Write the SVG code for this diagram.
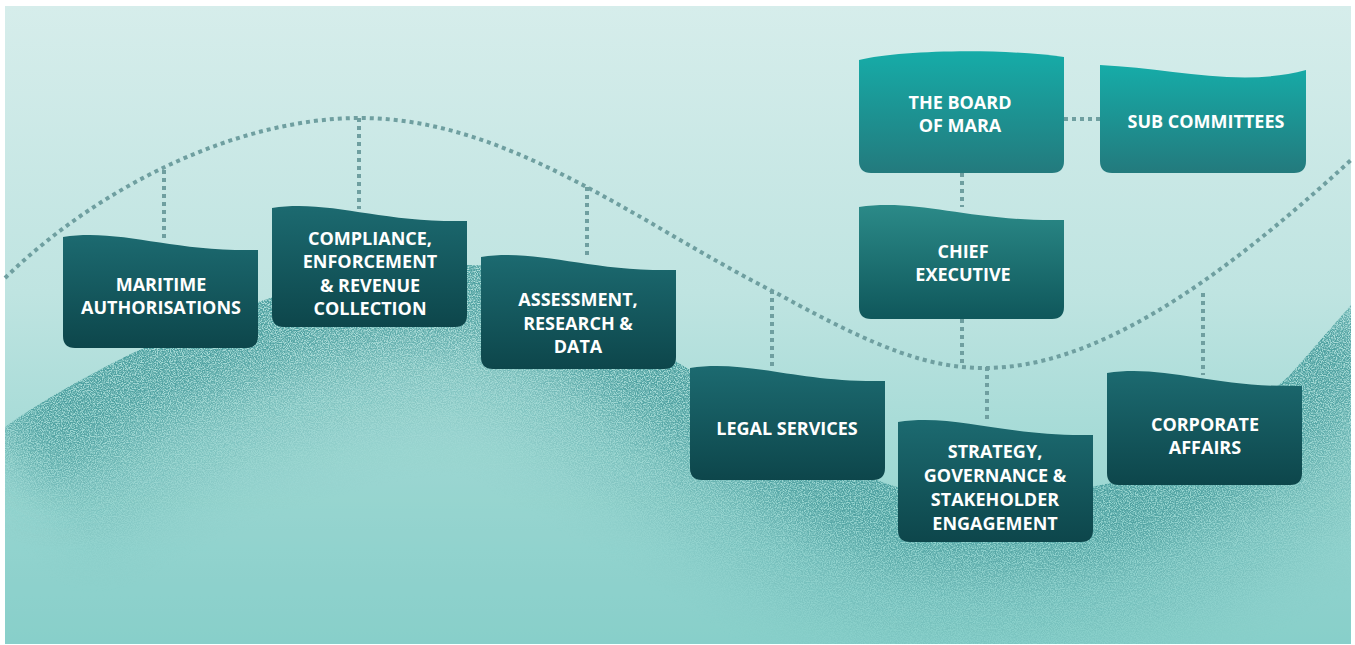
<svg xmlns="http://www.w3.org/2000/svg" width="1355" height="645" viewBox="0 0 1355 645">
<defs>
  <linearGradient id="bg" x1="0" y1="6" x2="0" y2="644" gradientUnits="userSpaceOnUse">
    <stop offset="0" stop-color="#d6edeb"/>
    <stop offset="0.45" stop-color="#bfe4e1"/>
    <stop offset="0.8" stop-color="#98d6d1"/>
    <stop offset="1" stop-color="#84cec9"/>
  </linearGradient>
  <linearGradient id="gDark" x1="0" y1="0" x2="0" y2="1">
    <stop offset="0" stop-color="#1c6a70"/>
    <stop offset="1" stop-color="#0d464b"/>
  </linearGradient>
  <linearGradient id="gBright" x1="0" y1="0" x2="0" y2="1">
    <stop offset="0" stop-color="#16aca8"/>
    <stop offset="1" stop-color="#237a7d"/>
  </linearGradient>
  <linearGradient id="gMid" x1="0" y1="0" x2="0" y2="1">
    <stop offset="0" stop-color="#2b8a88"/>
    <stop offset="1" stop-color="#0f575b"/>
  </linearGradient>
  <clipPath id="hillClip">
    <path d="M5,427 C100,360 300,262 470,265 C560,267 620,330 690,370 C780,420 850,480 910,490 C990,500 1060,495 1110,483 C1180,460 1240,420 1290,375 L1351,305 V644 H5 Z"/>
  </clipPath>
  <filter id="soft" filterUnits="userSpaceOnUse" x="-100" y="0" width="1600" height="800">
    <feGaussianBlur stdDeviation="28"/>
  </filter>
  <filter id="stipple" filterUnits="userSpaceOnUse" x="0" y="0" width="1355" height="645">
    <feTurbulence type="fractalNoise" baseFrequency="0.85" numOctaves="2" seed="7" result="n"/>
    <feColorMatrix in="n" type="matrix" values="0 0 0 0 0  0 0 0 0 0  0 0 0 0 0  3.2 0 0 0 -1.1" result="m"/>
    <feComposite in="SourceGraphic" in2="m" operator="in"/>
  </filter>
  <style>
    .box-text { font-family: "Open Sans", "Liberation Sans", sans-serif; font-weight: 700; font-size: 18px; fill: #ffffff; text-anchor: middle; }
    .dots { fill: none; stroke: #6f9fa0; stroke-width: 4; stroke-dasharray: 4 4; }
  </style>
</defs>

<rect x="0" y="0" width="1355" height="645" fill="#ffffff"/>
<rect x="5" y="6" width="1346" height="638" fill="url(#bg)"/>

<g id="hill" clip-path="url(#hillClip)">
  <path d="M5,427 C100,360 300,262 470,265 C560,267 620,330 690,370 C780,420 850,480 910,490 C990,500 1060,495 1110,483 C1180,460 1240,420 1290,375 L1351,305 V644 H5 Z" fill="#8fd0cc" opacity="0.35"/>
  <g filter="url(#stipple)">
    <path d="M5,427 C100,360 300,262 470,265 C560,267 620,330 690,370 C780,420 850,480 910,490 C990,500 1060,495 1110,483 C1180,460 1240,420 1290,375 L1351,305" fill="none" stroke="#3f9697" stroke-width="150" filter="url(#soft)"/>
  </g>
  <g filter="url(#stipple)" opacity="0.45">
    <path d="M5,427 C100,360 300,262 470,265 C560,267 620,330 690,370 C780,420 850,480 910,490 C990,500 1060,495 1110,483 C1180,460 1240,420 1290,375 L1351,305" fill="none" stroke="#5aa9a8" stroke-width="300" filter="url(#soft)"/>
  </g>
</g>

<g id="connectors">
  <path class="dots" d="M5,278 C100,185 240,118 360,118 C510,118 640,225 780,295 C880,350 930,368 985,368 C1090,368 1210,290 1351,160"/>
  <line class="dots" x1="164" y1="170" x2="164" y2="238"/>
  <line class="dots" x1="359" y1="118" x2="359" y2="209"/>
  <line class="dots" x1="587" y1="187" x2="587" y2="259"/>
  <line class="dots" x1="772" y1="290" x2="772" y2="369"/>
  <line class="dots" x1="962" y1="173" x2="962" y2="207"/>
  <line class="dots" x1="962" y1="319" x2="962" y2="366"/>
  <line class="dots" x1="987" y1="367" x2="987" y2="423"/>
  <line class="dots" x1="1203" y1="293" x2="1203" y2="375"/>
  <line class="dots" x1="1064" y1="119" x2="1100" y2="119"/>
</g>

<g id="board">
  <path d="M859,60 C900,50 1000,48 1064,57 V161 q0,12 -12,12 H871 q-12,0 -12,-12 Z" fill="url(#gBright)"/>
  <text class="box-text" x="960" y="109">THE BOARD</text>
  <text class="box-text" x="960" y="132">OF MARA</text>
</g>
<g id="sub-committees">
  <path d="M1100,65 C1170,68 1240,88 1306,70 V161 q0,12 -12,12 H1112 q-12,0 -12,-12 Z" fill="url(#gBright)"/>
  <text class="box-text" x="1206" y="128">SUB COMMITTEES</text>
</g>
<g id="chief-executive">
  <path d="M859,207 c60,-9 112,15 205,13 V307 q0,12 -12,12 H871 q-12,0 -12,-12 Z" fill="url(#gMid)"/>
  <text class="box-text" x="963" y="258">CHIEF</text>
  <text class="box-text" x="963" y="281">EXECUTIVE</text>
</g>
<g id="maritime-authorisations">
  <path d="M63,237 c57,-9 107,15 195,13 V336 q0,12 -12,12 H75 q-12,0 -12,-12 Z" fill="url(#gDark)"/>
  <text class="box-text" x="161" y="291">MARITIME</text>
  <text class="box-text" x="161" y="314">AUTHORISATIONS</text>
</g>
<g id="compliance">
  <path d="M272,208 c57,-9 107,15 195,13 V315 q0,12 -12,12 H284 q-12,0 -12,-12 Z" fill="url(#gDark)"/>
  <text class="box-text" x="370" y="245">COMPLIANCE,</text>
  <text class="box-text" x="370" y="268">ENFORCEMENT</text>
  <text class="box-text" x="370" y="292">&amp; REVENUE</text>
  <text class="box-text" x="370" y="315">COLLECTION</text>
</g>
<g id="assessment">
  <path d="M481,257 c57,-9 107,15 195,13 V357 q0,12 -12,12 H493 q-12,0 -12,-12 Z" fill="url(#gDark)"/>
  <text class="box-text" x="578" y="306">ASSESSMENT,</text>
  <text class="box-text" x="578" y="330">RESEARCH &amp;</text>
  <text class="box-text" x="578" y="353">DATA</text>
</g>
<g id="legal-services">
  <path d="M690,368 c57,-9 107,15 195,13 V468 q0,12 -12,12 H702 q-12,0 -12,-12 Z" fill="url(#gDark)"/>
  <text class="box-text" x="787" y="435">LEGAL SERVICES</text>
</g>
<g id="strategy">
  <path d="M898,422 c57,-9 107,15 195,13 V530 q0,12 -12,12 H910 q-12,0 -12,-12 Z" fill="url(#gDark)"/>
  <text class="box-text" x="995" y="458">STRATEGY,</text>
  <text class="box-text" x="995" y="482">GOVERNANCE &amp;</text>
  <text class="box-text" x="995" y="506">STAKEHOLDER</text>
  <text class="box-text" x="995" y="530">ENGAGEMENT</text>
</g>
<g id="corporate-affairs">
  <path d="M1107,373 c57,-9 107,15 195,13 V473 q0,12 -12,12 H1119 q-12,0 -12,-12 Z" fill="url(#gDark)"/>
  <text class="box-text" x="1205" y="431">CORPORATE</text>
  <text class="box-text" x="1205" y="454">AFFAIRS</text>
</g>
</svg>
